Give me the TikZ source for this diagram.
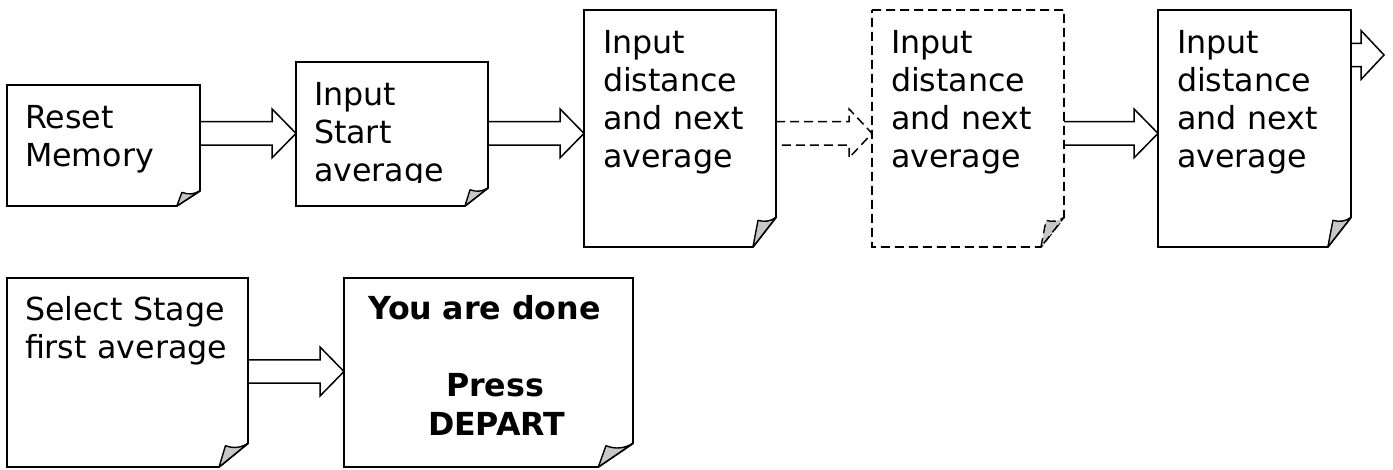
\documentclass[tikz,border=0pt]{standalone}
\usepackage{fontspec}
\setmainfont{DejaVu Sans}
\usetikzlibrary{calc}
\tikzset{
  docbox/.style={draw=none, inner sep=0pt, outer sep=0pt, anchor=north west},
  docline/.style={draw=black, line width=1.8pt, fill=white, line join=miter},
  curl/.style={draw=black, line width=1.4pt, fill=black!22, line join=round},
  arrowline/.style={draw=black, line width=1.5pt, fill=white},
  dashline/.style={dash pattern=on 9pt off 5pt},
  txt/.style={anchor=base west, inner sep=0pt, outer sep=0pt, text width=300pt, align=left,
    font=\fontsize{31.7}{37.7}\selectfont},
}
\newcommand\paperdoc[2][]{%
  \coordinate (#2-c1) at ($(#2.south east)!0.12!(#2.south west)$);
  \coordinate (#2-c2) at ($(#2.south east)!0.125!(#2.north east)$);
  \coordinate (#2-px) at ($(#2-c1)!0.22!(#2-c2)$);
  \coordinate (#2-py) at ($(#2-c1)!0.9!(#2-c2)$);
  \draw[docline,#1] (#2.north west) -- (#2.north east) -- (#2-c2) -- (#2-c1) -- (#2.south west) -- cycle;
  \filldraw[curl,#1] (#2-c1) -- (#2-px |- #2-py) to[bend right=25] (#2-c2) -- cycle;
}
\newcommand\blockarrow[4][]{%
  \draw[arrowline,#1] ($(#2)+(0,-11.7)$) -- ($(#3)+(-#4,-11.7)$) -- ($(#3)+(-#4,-24.5)$) -- (#3)
    -- ($(#3)+(-#4,24.5)$) -- ($(#3)+(-#4,11.7)$) -- ($(#2)+(0,11.7)$);
}
\begin{document}
\begin{tikzpicture}[x=1pt,y=-1pt]
\useasboundingbox (0,0) rectangle (1393,470);
% box frames (named nodes)
\node[docbox, minimum width=193pt, minimum height=121pt] (b1) at (7,85) {};
\node[docbox, minimum width=192pt, minimum height=144pt] (b2) at (296,62) {};
\node[docbox, minimum width=192pt, minimum height=237pt] (b3) at (584,10) {};
\node[docbox, minimum width=192pt, minimum height=237pt] (b4) at (872,10) {};
\node[docbox, minimum width=193pt, minimum height=237pt] (b5) at (1158,10) {};
\node[docbox, minimum width=241pt, minimum height=189pt] (c1) at (7,278) {};
\node[docbox, minimum width=289pt, minimum height=189pt] (c2) at (344,278) {};
% connectors
\coordinate (r1) at (0,133.4);
\coordinate (r2) at (0,371.5);
\coordinate (off) at (1384,55);
\coordinate (a1s) at (b1.east |- r1); \coordinate (a1e) at (b2.west |- r1);
\coordinate (a2s) at (b2.east |- r1); \coordinate (a2e) at (b3.west |- r1);
\coordinate (a3s) at (b3.east |- r1); \coordinate (a3e) at (b4.west |- r1);
\coordinate (a4s) at (b4.east |- r1); \coordinate (a4e) at (b5.west |- r1);
\coordinate (a5s) at (b5.east |- off);
\coordinate (a6s) at (c1.east |- r2); \coordinate (a6e) at (c2.west |- r2);
\blockarrow{a1s}{a1e}{24}
\blockarrow{a2s}{a2e}{24}
\blockarrow[dashline]{a3s}{a3e}{23}
\blockarrow{a4s}{a4e}{24}
\blockarrow{a5s}{off}{23}
\blockarrow{a6s}{a6e}{24}
% documents
\paperdoc{b1}
\paperdoc{b2}
\paperdoc{b3}
\paperdoc[dashline]{b4}
\paperdoc{b5}
\paperdoc{c1}
\paperdoc{c2}
% texts
\node[txt] (t1) at ($(b1.north west)+(18,44)$) {Reset\\Memory};
\begin{scope}
  \clip (b2.north west) rectangle ($(b2.north east)+(0,120.5)$);
  \node[txt] (t2) at ($(b2.north west)+(18,44)$) {Input\\Start\\average};
\end{scope}
\node[txt] (t3) at ($(b3.north west)+(19,44)$) {Input\\distance\\and next\\average};
\node[txt] (t4) at ($(b4.north west)+(19,44)$) {Input\\distance\\and next\\average};
\node[txt] (t5) at ($(b5.north west)+(19,44)$) {Input\\distance\\and next\\average};
\node[txt] (t6) at ($(c1.north west)+(18,43)$) {Select Stage\\first average};
\node[txt, font=\bfseries\fontsize{31.7}{38.5}\selectfont] (t7) at ($(c2.north west)+(24,42)$)
  {You are done\\[38.5pt]\hspace*{78pt}Press\\\hspace*{60pt}DEPART};
\end{tikzpicture}
\end{document}
